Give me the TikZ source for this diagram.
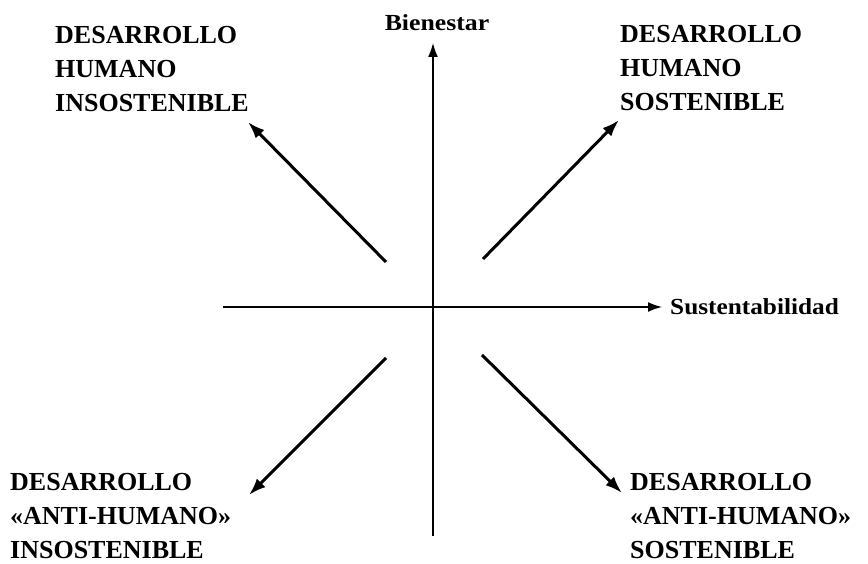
\documentclass[tikz,border=0pt]{standalone}
\usepackage{fontspec}
\setmainfont{Liberation Serif}
\usepackage{tikz}
\usetikzlibrary{arrows,arrows.meta,positioning,calc}
\tikzstyle{eje}=[line width=2.9pt, -{Latex[length=15pt,width=10pt]}]
\tikzstyle{flecha}=[line width=3pt, -{Latex[length=17pt,width=12pt]}]
\tikzstyle{cuadrante}=[inner sep=0pt, align=left, font={\fontsize{26}{34}\selectfont\bfseries}]
\tikzstyle{rotulo}=[inner sep=0pt, font={\fontsize{23}{26}\selectfont\bfseries}]

\begin{document}
\begin{tikzpicture}[x=1pt,y=1pt]

\useasboundingbox (-433,-257) rectangle (435,307);

% ejes
\coordinate (o) at (0,0);
\coordinate (abajo) at (0,-229);
\coordinate (arriba) at (0,265);
\coordinate (izq) at (-210,0);
\coordinate (der) at (230,0);
\draw[eje] (abajo) -- (arriba);
\draw[eje] (izq) -- (der);

\node[rotulo, anchor=south] (bien) at (4,276) {\scalebox{1.12}[1]{Bienestar}};
\node[rotulo, anchor=west] (sust) at (237,0) {\scalebox{1.1}[1]{Sustentabilidad}};

% cuadrantes
\node[cuadrante, anchor=north west] (hi) at (-378,281) {DESARROLLO\\HUMANO\\INSOSTENIBLE};
\node[cuadrante, anchor=north west] (hs) at (187,282) {DESARROLLO\\HUMANO\\SOSTENIBLE};
\node[cuadrante, anchor=north west] (ai) at (-423,-166) {DESARROLLO\\«ANTI-HUMANO»\\INSOSTENIBLE};
\node[cuadrante, anchor=north west] (as) at (197,-166) {DESARROLLO\\«ANTI-HUMANO»\\SOSTENIBLE};

% flechas
\coordinate (hi0) at (-47,45);
\coordinate (hi1) at (-185,185);
\coordinate (hs0) at (50,48);
\coordinate (hs1) at (186,187);
\coordinate (ai0) at (-47,-51);
\coordinate (ai1) at (-184,-188);
\coordinate (as0) at (49,-48);
\coordinate (as1) at (189,-186);
\draw[flecha] (hi0) -- (hi1);
\draw[flecha] (hs0) -- (hs1);
\draw[flecha] (ai0) -- (ai1);
\draw[flecha] (as0) -- (as1);

\end{tikzpicture}
\end{document}
